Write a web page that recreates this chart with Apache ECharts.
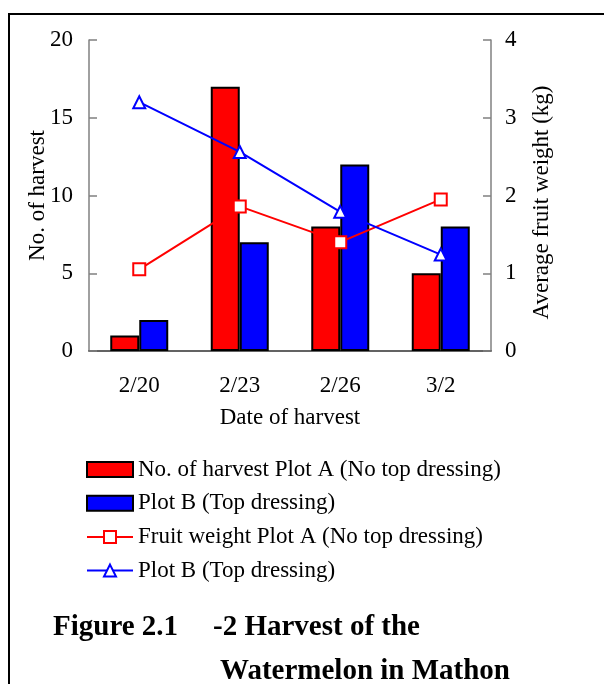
<!DOCTYPE html>
<html>
<head>
<meta charset="utf-8">
<script src="https://cdn.jsdelivr.net/npm/echarts@6/dist/echarts.min.js"></script>
<style>html,body{margin:0;padding:0;background:#fff;}#c{width:604px;height:684px;}</style>
</head>
<body>
<div id="c"></div>
<script>
const categories = ['2/20', '2/23', '2/26', '3/2'];
const harvestA = [1, 17, 8, 5];
const harvestB = [2, 7, 12, 8];
const weightA = [1.05, 1.86, 1.40, 1.95];
const weightB = [3.20, 2.56, 1.79, 1.24];
const leftTicks = [0, 5, 10, 15, 20];
const rightTicks = [0, 1, 2, 3, 4];
const names = ['No. of harvest Plot A (No top dressing)', 'Plot B (Top dressing)', 'Fruit weight Plot A (No top dressing)', 'Plot B (Top dressing) '];

const FONT = '"Liberation Serif", "Times New Roman", serif';
const FS = 23;
const chart = echarts.init(document.getElementById('c'), null, {renderer: 'canvas'});
const axisGray = '#808080';
chart.setOption({
  animation: false,
  backgroundColor: '#fff',
  textStyle: {fontFamily: FONT, color: '#000'},
  grid: {left: 89, right: 113, top: 40, bottom: 333, containLabel: false},
  xAxis: {
    type: 'category', data: categories,
    axisLine: {lineStyle: {color: '#303030', width: 1.5}},
    axisTick: {inside: true, length: 6, lineStyle: {color: axisGray, width: 1.5}},
    axisLabel: {fontFamily: FONT, fontSize: FS, color: '#000', margin: 23},
    name: 'Date of harvest', nameLocation: 'middle', nameGap: 55,
    nameTextStyle: {fontFamily: FONT, fontSize: FS, color: '#000'}
  },
  yAxis: [
    {
      type: 'value', min: leftTicks[0], max: leftTicks[leftTicks.length - 1], interval: 5,
      axisLine: {show: true, lineStyle: {color: axisGray, width: 1.5}},
      axisTick: {show: true, inside: true, length: 8, lineStyle: {color: axisGray, width: 1.5}},
      splitLine: {show: false},
      axisLabel: {fontFamily: FONT, fontSize: FS, color: '#000', margin: 16},
      name: 'No. of harvest', nameLocation: 'middle', nameGap: 40, nameMoveOverlap: false,
      nameTextStyle: {fontFamily: FONT, fontSize: FS, color: '#000'}
    },
    {
      type: 'value', min: rightTicks[0], max: rightTicks[rightTicks.length - 1], interval: 1,
      position: 'right',
      axisLine: {show: true, lineStyle: {color: axisGray, width: 1.5}},
      axisTick: {show: true, inside: true, length: 8, lineStyle: {color: axisGray, width: 1.5}},
      splitLine: {show: false},
      axisLabel: {fontFamily: FONT, fontSize: FS, color: '#000', margin: 14},
      name: 'Average fruit weight (kg)', nameLocation: 'middle', nameGap: 39, nameMoveOverlap: false,
      nameTextStyle: {fontFamily: FONT, fontSize: FS, color: '#000', padding: [0, 14, 0, 0]}
    }
  ],
  legend: {
    orient: 'vertical', left: 86, top: 458, padding: 0,
    itemWidth: 46, itemHeight: 15, itemGap: 10.7,
    textStyle: {fontFamily: FONT, fontSize: FS, color: '#000'},
    formatter: n => n.trim(),
    selectedMode: false,
    data: [
      {name: names[0], icon: 'rect'},
      {name: names[1], icon: 'rect'},
      {name: names[2]},
      {name: names[3]}
    ]
  },
  series: [
    {name: names[0], type: 'bar', data: harvestA, barWidth: 29, barGap: '0%',
     itemStyle: {color: '#ff0000', borderColor: '#000', borderWidth: 2}},
    {name: names[1], type: 'bar', data: harvestB, barWidth: 29, barGap: '0%',
     itemStyle: {color: '#0000ff', borderColor: '#000', borderWidth: 2}},
    {name: names[2], type: 'line', yAxisIndex: 1, data: weightA, symbol: 'rect', symbolSize: 12,
     lineStyle: {color: '#ff0000', width: 2},
     itemStyle: {color: '#ffffff', borderColor: '#ff0000', borderWidth: 2}, z: 5},
    {name: names[3], type: 'line', yAxisIndex: 1, data: weightB, symbol: 'triangle', symbolSize: 12,
     lineStyle: {color: '#0000ff', width: 2},
     itemStyle: {color: '#ffffff', borderColor: '#0000ff', borderWidth: 2}, z: 5}
  ],
  graphic: [
    {type: 'rect', shape: {x: 9, y: 14, width: 800, height: 800}, style: {fill: 'none', stroke: '#000', lineWidth: 2}, silent: true},
    {type: 'text', x: 53, y: 628, style: {text: 'Figure 2.1', font: 'bold 29px ' + FONT, fill: '#000', verticalAlign: 'middle'}},
    {type: 'text', x: 213, y: 628, style: {text: '-2 Harvest of the', font: 'bold 29px ' + FONT, fill: '#000', verticalAlign: 'middle'}},
    {type: 'text', x: 220, y: 672, style: {text: 'Watermelon in Mathon', font: 'bold 29px ' + FONT, fill: '#000', verticalAlign: 'middle'}}
  ]
});
</script>
</body>
</html>
